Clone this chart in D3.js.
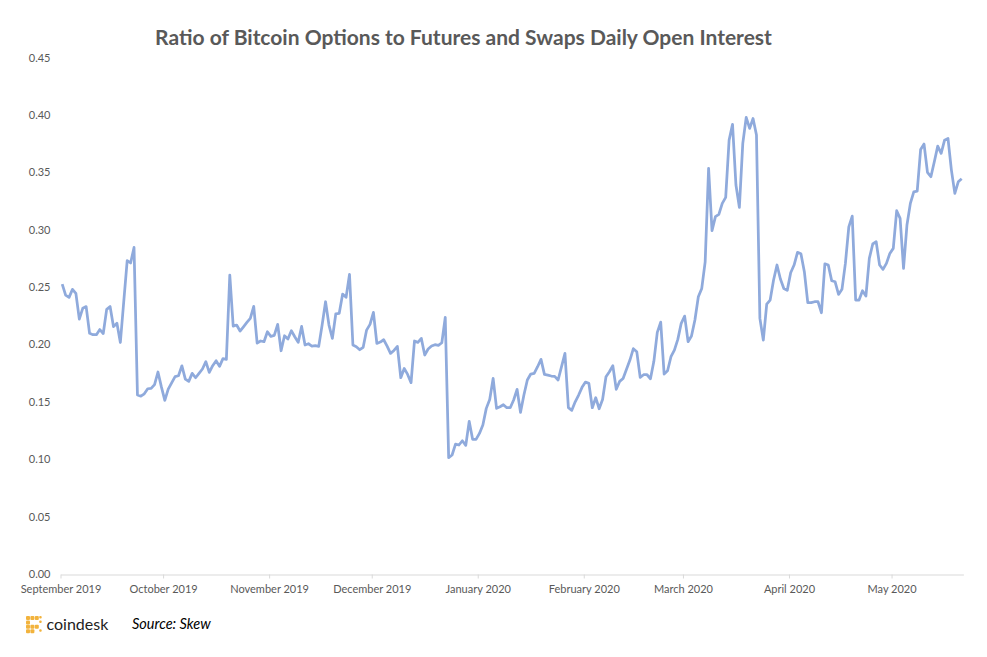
<!DOCTYPE html>
<meta charset="utf-8">

<body style="margin:0;background:#fff;">
    <svg width="987" height="657" style="display:block;"></svg>
</body>
<script src="https://d3js.org/d3.v7.min.js"></script>
<script>
    const chartTitle = "Ratio of Bitcoin Options to Futures and Swaps Daily Open Interest";
    const sourceText = "Source: Skew";
    const brandName = "coindesk";
    const yTicks = [0, 0.05, 0.10, 0.15, 0.20, 0.25, 0.30, 0.35, 0.40, 0.45];
    const firstDay = new Date(Date.UTC(2019, 8, 1, 12));
    // one reading per day
    const ratioValues = [
        .2526, .243, .241, .248, .2445, .222, .2315, .233, .2097, .2085, .2085, .213, .2095, .2306, .233, .2155, .2185, .2017, .2375, .273,
        .271, .2845, .156, .155, .157, .1614, .1617, .165, .176, .163, .1513, .161, .1666, .172, .1727, .1814, .1698, .1678, .1748, .171,
        .1748, .1786, .185, .1757, .1815, .1858, .1809, .1876, .187, .2604, .216, .2169, .2117, .2154, .2192, .2227, .2332, .2012, .203, .2024,
        .2111, .207, .2079, .2175, .1945, .2076, .2047, .212, .2067, .2018, .2157, .1995, .2006, .1986, .1989, .1983, .2169, .2372, .2169, .2053,
        .2267, .2271, .2439, .241, .261, .1995, .198, .1954, .1975, .2125, .2175, .2279, .2009, .2021, .2041, .1986, .1922, .1948, .1983, .171,
        .1791, .1739, .1667, .203, .2018, .2053, .1908, .196, .1986, .1998, .1992, .2015, .2236, .1013, .1037, .1132, .1124, .1161, .1121, .133,
        .1173, .1173, .1225, .1298, .1443, .1521, .1704, .1443, .1457, .1475, .1449, .1449, .1516, .1609, .1408, .1559, .169, .1742, .1748, .1806,
        .187, .1739, .1733, .1725, .1722, .169, .1806, .1922, .1449, .1426, .15, .1559, .1626, .1672, .1661, .1449, .1536, .144, .1521, .1719,
        .1762, .1815, .1609, .1678, .1704, .1783, .1864, .1963, .1937, .1713, .1736, .1736, .1701, .1853, .2105, .2195, .1742, .1771, .1893, .1951,
        .2044, .2184, .2247, .2024, .2073, .2213, .2416, .2488, .272, .3534, .2991, .3113, .3133, .3229, .3281, .378, .3917, .3389, .3194, .3752,
        .3978, .3882, .3969, .3824, .2227, .2038, .2352, .2387, .2561, .2692, .257, .2488, .2471, .2625, .2692, .2802, .279, .2634, .2364, .2364,
        .2372, .2372, .2276, .2703, .2692, .2555, .2546, .2436, .248, .2706, .3025, .3118, .2387, .2387, .2468, .2422, .275, .2875, .2895, .2692,
        .2654, .2706, .2793, .2837, .3165, .3098, .2663, .304, .3229, .333, .3336, .3699, .3746, .3499, .3461, .3592, .3728, .3665, .378, .3795,
        .3519, .3316, .3417, .3443
    ];

    let svg = d3.select("svg");
    let days = ratioValues.map((v, i) => d3.utcDay.offset(firstDay, i));

    // excel date axis: each day sits in the middle of its own slot
    let x = d3.scaleUtc()
        .domain([d3.utcDay.floor(firstDay), d3.utcDay.offset(d3.utcDay.floor(firstDay), ratioValues.length)])
        .range([60.5, 60.5 + 3.42 * ratioValues.length]);
    let y = d3.scaleLinear().domain([0, 0.45]).range([574, 57.5]);

    let labelFont = "Lato, 'Open Sans', sans-serif";

    svg.append("text")
        .attr("x", 463.5)
        .attr("y", 44.5)
        .attr("text-anchor", "middle")
        .attr("fill", "#595959")
        .style("font", `bold 21px ${labelFont}`)
        .text(chartTitle);

    let yAxis = svg.append("g")
        .attr("transform", "translate(60.5,0)")
        .call(d3.axisLeft(y).tickValues(yTicks).tickSize(0).tickPadding(10).tickFormat(d3.format(".2f")));
    yAxis.select(".domain").remove();

    let xAxis = svg.append("g")
        .attr("transform", "translate(0,574.5)")
        .call(d3.axisBottom(x)
            .ticks(d3.utcMonth.every(1))
            .tickSizeInner(4)
            .tickSizeOuter(0)
            .tickPadding(7)
            .tickFormat(d3.utcFormat("%B %Y")));
    xAxis.selectAll("path,line").attr("stroke", "#d9d9d9");

    svg.selectAll("g text")
        .attr("fill", "#595959")
        .style("font", `11px ${labelFont}`);

    let line = d3.line()
        .x((d, i) => x(days[i]))
        .y(d => y(d));

    svg.append("path")
        .datum(ratioValues)
        .attr("fill", "none")
        .attr("stroke", "#8faadc")
        .attr("stroke-width", 2.75)
        .attr("stroke-linejoin", "round")
        .attr("d", line);

    // little coindesk mark, yellow cells on a 4x4 grid
    let logo = svg.append("g").attr("transform", "translate(26,616)");
    let logoCells = [[0, 0], [1, 0], [2, 0], [3, 0], [0, 1], [0, 2], [1, 2], [2, 2], [0, 3], [1, 3], [3, 1], [3, 3]];
    logo.selectAll("rect")
        .data(logoCells)
        .join("rect")
        .attr("x", d => d[0] * 4.4)
        .attr("y", d => d[1] * 4.4)
        .attr("width", d => d[0] == 3 ? 2.5 : 4)
        .attr("height", d => d[0] == 3 ? 2.5 : 4)
        .attr("rx", 1)
        .attr("fill", "#f2b33d");

    svg.append("text")
        .attr("x", 46.5)
        .attr("y", 630)
        .attr("fill", "#222")
        .style("font", `16px ${labelFont}`)
        .text(brandName);

    svg.append("text")
        .attr("x", 132)
        .attr("y", 629)
        .attr("fill", "#000")
        .style("font", `italic 14.5px ${labelFont}`)
        .text(sourceText);
</script>
